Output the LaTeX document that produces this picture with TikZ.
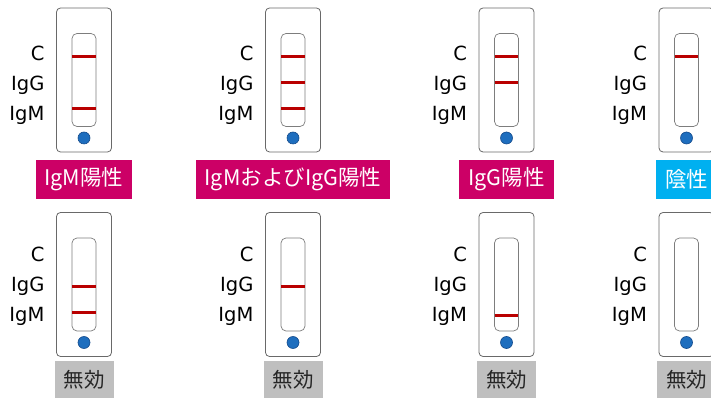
\documentclass[tikz,border=0pt]{standalone}
\usepackage{fontspec}
\setmainfont{DejaVu Sans}
\newfontfamily\jpfont{Noto Sans CJK JP}
\usepackage{tikz}
\usetikzlibrary{positioning}
\definecolor{cardgray}{RGB}{105,105,105}
\definecolor{stripgray}{RGB}{125,125,125}
\definecolor{bandred}{RGB}{185,0,0}
\definecolor{wellblue}{RGB}{30,110,190}
\definecolor{welledge}{RGB}{20,75,140}
\definecolor{posred}{RGB}{204,0,102}
\definecolor{negblue}{RGB}{0,176,240}
\definecolor{voidgray}{RGB}{191,191,191}

\begin{document}
\begin{tikzpicture}[
    x=1pt, y=1pt,
    card/.style={
		rectangle,
		rounded corners=4pt,
		draw=cardgray,
		line width=0.8pt,
		minimum width=55pt,
		minimum height=144pt,
		fill=white
	},
    strip/.style={
		rectangle,
		rounded corners=5pt,
		draw=stripgray,
		line width=0.7pt,
		minimum width=24pt,
		minimum height=93pt
	},
    band/.style={
		draw=bandred,
		line width=3pt,
		shorten <=0.5pt,
		shorten >=0.5pt
	},
    well/.style={
		circle,
		fill=wellblue,
		draw=welledge,
		line width=0.6pt,
		minimum size=12pt,
		inner sep=0pt
	},
    tag/.style={
		anchor=base east,
		inner sep=0pt,
		font=\fontsize{19.5}{20}\selectfont
	},
    verdict/.style={
		rectangle,
		text=white,
		inner xsep=9pt,
		inner ysep=0pt,
		minimum height=39pt,
		font=\jpfont\fontsize{21.5}{22}\selectfont
	},
    void/.style={
		rectangle,
		fill=voidgray,
		text=black!85,
		inner xsep=9pt,
		inner ysep=0pt,
		minimum height=38pt,
		font=\jpfont\fontsize{20.5}{21}\selectfont
	}
  ]
  \useasboundingbox (0,0) rectangle (711,398);

  % We start by placing the cards
  \node [card] (card1) at (84,318) {};
  \node [card] (card2) at (293,318) {};
  \node [card] (card3) at (506.5,318) {};
  \node [card] (card4) at (686.5,318) {};
  \node [card] (card5) at (84,113.5) {};
  \node [card] (card6) at (293,113.5) {};
  \node [card] (card7) at (506.5,113.5) {};
  \node [card] (card8) at (686.5,113.5) {};

  % strips and wells
  \node [strip] (strip1) at (card1) {};
  \node [strip] (strip2) at (card2) {};
  \node [strip] (strip3) at (card3) {};
  \node [strip] (strip4) at (card4) {};
  \node [strip] (strip5) at (card5) {};
  \node [strip] (strip6) at (card6) {};
  \node [strip] (strip7) at (card7) {};
  \node [strip] (strip8) at (card8) {};

  \node [well] (well1) at ([yshift=-58pt]card1.center) {};
  \node [well] (well2) at ([yshift=-58pt]card2.center) {};
  \node [well] (well3) at ([yshift=-58pt]card3.center) {};
  \node [well] (well4) at ([yshift=-58pt]card4.center) {};
  \node [well] (well5) at ([yshift=-58pt]card5.center) {};
  \node [well] (well6) at ([yshift=-58pt]card6.center) {};
  \node [well] (well7) at ([yshift=-58pt]card7.center) {};
  \node [well] (well8) at ([yshift=-58pt]card8.center) {};

  % the red bands
  \draw [band] ([yshift=23.5pt]strip1.west) -- ([yshift=23.5pt]strip1.east);
  \draw [band] ([yshift=-28.5pt]strip1.west) -- ([yshift=-28.5pt]strip1.east);

  \draw [band] ([yshift=23.5pt]strip2.west) -- ([yshift=23.5pt]strip2.east);
  \draw [band] ([yshift=-3pt]strip2.west) -- ([yshift=-3pt]strip2.east);
  \draw [band] ([yshift=-28.5pt]strip2.west) -- ([yshift=-28.5pt]strip2.east);

  \draw [band] ([yshift=23.5pt]strip3.west) -- ([yshift=23.5pt]strip3.east);
  \draw [band] ([yshift=-3pt]strip3.west) -- ([yshift=-3pt]strip3.east);

  \draw [band] ([yshift=23.5pt]strip4.west) -- ([yshift=23.5pt]strip4.east);

  \draw [band] ([yshift=-2.5pt]strip5.west) -- ([yshift=-2.5pt]strip5.east);
  \draw [band] ([yshift=-28.5pt]strip5.west) -- ([yshift=-28.5pt]strip5.east);

  \draw [band] ([yshift=-2.5pt]strip6.west) -- ([yshift=-2.5pt]strip6.east);

  \draw [band] ([yshift=-31.5pt]strip7.west) -- ([yshift=-31.5pt]strip7.east);

  % line names left of each card
  \node [tag] (c1) at ([xshift=-11.5pt,yshift=19pt]card1.west) {C};
  \node [tag] (g1) at ([yshift=-30pt]c1.base east) {IgG};
  \node [tag] (m1) at ([yshift=-30pt]g1.base east) {IgM};
  \node [tag] (c2) at ([xshift=-11.5pt,yshift=19pt]card2.west) {C};
  \node [tag] (g2) at ([yshift=-30pt]c2.base east) {IgG};
  \node [tag] (m2) at ([yshift=-30pt]g2.base east) {IgM};
  \node [tag] (c3) at ([xshift=-11.5pt,yshift=19pt]card3.west) {C};
  \node [tag] (g3) at ([yshift=-30pt]c3.base east) {IgG};
  \node [tag] (m3) at ([yshift=-30pt]g3.base east) {IgM};
  \node [tag] (c4) at ([xshift=-11.5pt,yshift=19pt]card4.west) {C};
  \node [tag] (g4) at ([yshift=-30pt]c4.base east) {IgG};
  \node [tag] (m4) at ([yshift=-30pt]g4.base east) {IgM};

  \node [tag] (c5) at ([xshift=-11.5pt,yshift=23pt]card5.west) {C};
  \node [tag] (g5) at ([yshift=-30pt]c5.base east) {IgG};
  \node [tag] (m5) at ([yshift=-30pt]g5.base east) {IgM};
  \node [tag] (c6) at ([xshift=-11.5pt,yshift=23pt]card6.west) {C};
  \node [tag] (g6) at ([yshift=-30pt]c6.base east) {IgG};
  \node [tag] (m6) at ([yshift=-30pt]g6.base east) {IgM};
  \node [tag] (c7) at ([xshift=-11.5pt,yshift=23pt]card7.west) {C};
  \node [tag] (g7) at ([yshift=-30pt]c7.base east) {IgG};
  \node [tag] (m7) at ([yshift=-30pt]g7.base east) {IgM};
  \node [tag] (c8) at ([xshift=-11.5pt,yshift=23pt]card8.west) {C};
  \node [tag] (g8) at ([yshift=-30pt]c8.base east) {IgG};
  \node [tag] (m8) at ([yshift=-30pt]g8.base east) {IgM};

  % results
  \node [verdict, fill=posred, below=7pt of card1] (res1) {IgM陽性};
  \node [verdict, fill=posred, below=7pt of card2] (res2) {IgMおよびIgG陽性};
  \node [verdict, fill=posred, below=7pt of card3] (res3) {IgG陽性};
  \node [verdict, fill=negblue, below=7pt of card4] (res4) {陰性};

  \node [void, below=3.5pt of card5] (res5) {無効};
  \node [void, below=3.5pt of card6] (res6) {無効};
  \node [void, below=3.5pt of card7] (res7) {無効};
  \node [void, below=3.5pt of card8] (res8) {無効};

\end{tikzpicture}
\end{document}
